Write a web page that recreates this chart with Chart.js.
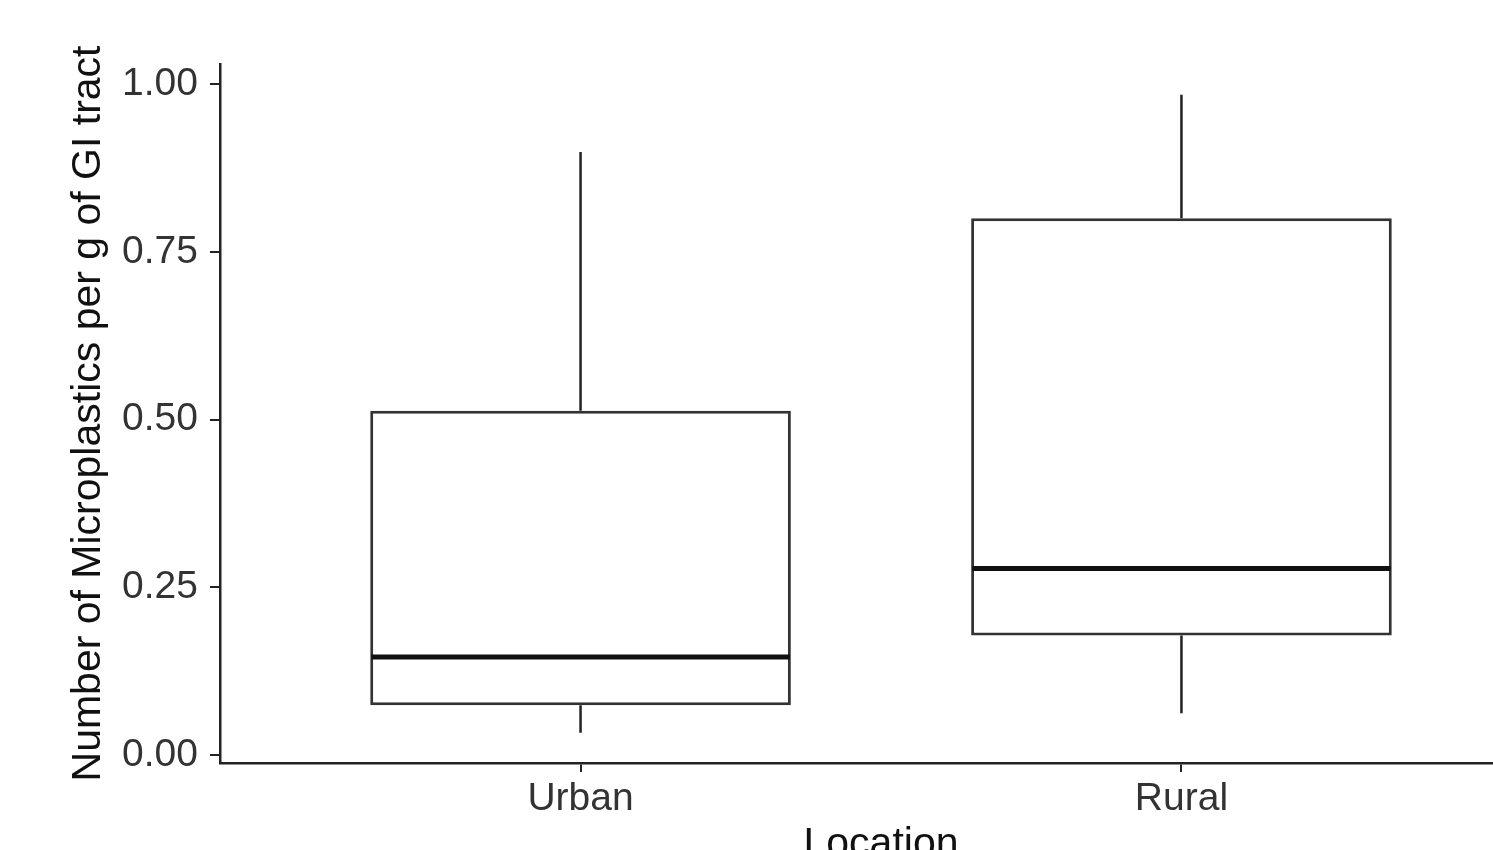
<!DOCTYPE html>
<html>
<head>
<meta charset="utf-8">
<script src="https://cdn.jsdelivr.net/npm/chart.js@4/dist/chart.umd.min.js"></script>
<style>
  html, body { margin: 0; padding: 0; background: #fff; overflow: hidden; }
  #wrap { width: 1493px; height: 850px; overflow: hidden; }
</style>
</head>
<body>
<div id="wrap"><canvas id="myChart" width="1560" height="900"></canvas></div>
<script>
// box plot values
const locations = ["Urban", "Rural"];
const whiskerLow = [0.033, 0.062];
const quart1 = [0.074, 0.178];
const medians = [0.146, 0.278];
const quart3 = [0.513, 0.8];
const whiskerHigh = [0.899, 0.984];
const yTicks = [0, 0.25, 0.5, 0.75, 1];

const boxData = locations.map((name, i) => ({ x: i, y: [quart1[i], quart3[i]] }));

// whiskers + median drawn with the chart's own scales
const boxExtras = {
  id: "boxExtras",
  beforeDatasetsDraw(chart) {
    const { ctx, scales } = chart;
    ctx.save();
    ctx.strokeStyle = "#222";
    ctx.lineWidth = 2.5;
    locations.forEach((name, i) => {
      const x = scales.x.getPixelForValue(i);
      ctx.beginPath();
      ctx.moveTo(x, scales.y.getPixelForValue(quart3[i]));
      ctx.lineTo(x, scales.y.getPixelForValue(whiskerHigh[i]));
      ctx.moveTo(x, scales.y.getPixelForValue(quart1[i]));
      ctx.lineTo(x, scales.y.getPixelForValue(whiskerLow[i]));
      ctx.stroke();
    });
    ctx.restore();
  },
  afterDatasetsDraw(chart) {
    const { ctx, scales } = chart;
    const meta = chart.getDatasetMeta(0);
    ctx.save();
    ctx.strokeStyle = "#111";
    ctx.lineWidth = 5;
    locations.forEach((name, i) => {
      const bar = meta.data[i];
      const y = scales.y.getPixelForValue(medians[i]);
      ctx.beginPath();
      ctx.moveTo(bar.x - bar.width / 2 + 1, y);
      ctx.lineTo(bar.x + bar.width / 2 - 1, y);
      ctx.stroke();
    });
    ctx.restore();
  },
};

const ctx = document.getElementById("myChart");

new Chart(ctx, {
  type: "bar",
  data: {
    datasets: [
      {
        label: "Microplastics",
        data: boxData,
        backgroundColor: "#ffffff",
        borderColor: "#333",
        borderWidth: 3,
        borderSkipped: false,
        categoryPercentage: 0.7,
        barPercentage: 1,
      },
    ],
  },
  options: {
    responsive: false,
    animation: false,
    layout: { padding: { left: 0, right: 18, top: 64, bottom: 31 } },
    plugins: { legend: { display: false }, tooltip: { enabled: false } },
    scales: {
      x: {
        type: "linear",
        min: -0.6,
        max: 1.6,
        offset: false,
        afterFit: (s) => { s.height = 106; },
        border: { display: true, color: "#222", width: 2.5 },
        grid: { display: true, offset: false, drawOnChartArea: false, drawTicks: true, tickLength: 9, color: "#222", lineWidth: 2 },
        ticks: {
          stepSize: 1,
          includeBounds: false,
          autoSkip: false,
          maxRotation: 0,
          padding: 4,
          color: "#333",
          font: { family: "'Liberation Sans', Arial, sans-serif", size: 39 },
          callback: (v) => locations[v] ?? "",
        },
        title: {
          display: true,
          text: "Location",
          color: "#111",
          padding: { top: 0, bottom: 0 },
          font: { family: "'Liberation Sans', Arial, sans-serif", size: 41 },
        },
      },
      y: {
        min: -0.012,
        max: 1.03,
        afterFit: (s) => { s.width = 220; },
        border: { display: true, color: "#222", width: 2.5 },
        grid: { display: true, drawOnChartArea: false, drawTicks: true, tickLength: 10, color: "#222", lineWidth: 2 },
        afterBuildTicks: (s) => { s.ticks = yTicks.map((v) => ({ value: v })); },
        ticks: {
          padding: 12,
          color: "#333",
          font: { family: "'Liberation Sans', Arial, sans-serif", size: 39 },
          callback: (v) => Number(v).toFixed(2),
        },
        title: {
          display: true,
          text: "Number of Microplastics per g of GI tract",
          color: "#111",
          padding: { top: 64, bottom: 0 },
          font: { family: "'Liberation Sans', Arial, sans-serif", size: 41 },
        },
      },
    },
  },
  plugins: [boxExtras],
});
</script>
</body>
</html>
